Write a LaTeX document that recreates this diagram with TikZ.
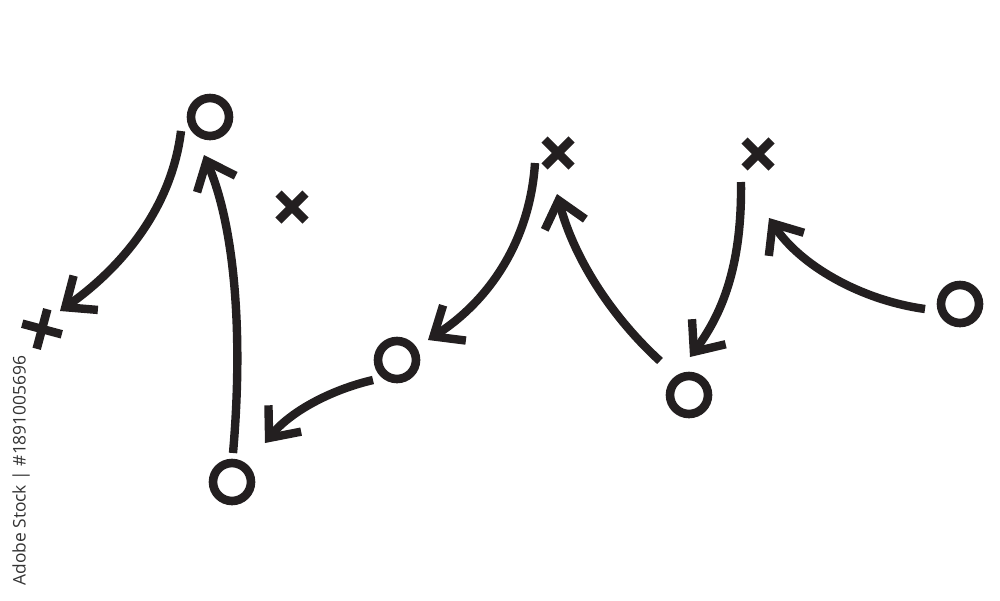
\documentclass[tikz,border=0pt]{standalone}
\usepackage{fontspec}
\newfontfamily\wmfont{Open Sans}
\usetikzlibrary{arrows.meta,shapes.misc}
\definecolor{ink}{HTML}{231F20}
\definecolor{wmgray}{HTML}{333333}
\begin{document}
\begin{tikzpicture}[x=0.5pt,y=-0.5pt,
  ring/.style={circle,draw=ink,line width=4.3pt,minimum size=19pt,inner sep=0pt,outer sep=0pt},
  xmark/.style={cross out,draw=ink,line width=4.3pt,minimum size=13.5pt,inner sep=0pt,outer sep=0pt},
  route/.style={draw=ink,line width=4.2pt,-{Straight Barb[length=12.5pt,width=21pt,sharp]}},
  wmtext/.style={rotate=90,anchor=west,inner sep=0pt,text=wmgray,font=\wmfont\fontsize{8.7}{10}\selectfont}
]
\useasboundingbox (0,0) rectangle (1000,600);
% players
\node[ring] (O1) at (210,117) {};
\node[ring] (O2) at (232,482) {};
\node[ring] (O3) at (397,360) {};
\node[ring] (O4) at (689,395) {};
\node[ring] (O5) at (960,304) {};
\node[xmark,minimum size=14.5pt,rotate=30] (X1) at (42,329) {};
\node[xmark] (X2) at (292,207) {};
\node[xmark] (X3) at (558,153) {};
\node[xmark] (X4) at (758,154) {};
% route ends
\coordinate (a1s) at (181,131); \coordinate (a1e) at (60,311);
\coordinate (a2s) at (233,453); \coordinate (a2e) at (204,155);
\coordinate (a3s) at (373,380); \coordinate (a3e) at (265,443);
\coordinate (a4s) at (535,163); \coordinate (a4e) at (428,340);
\coordinate (a5s) at (660,361); \coordinate (a5e) at (557,194);
\coordinate (a6s) at (741,182); \coordinate (a6e) at (690,357);
\coordinate (a7s) at (925,309); \coordinate (a7e) at (769,218);
% routes
\draw[route] (a1s) .. controls (172,205) and (125,265) .. (a1e);
\draw[route] (a2s) .. controls (243,340) and (236,230) .. (a2e);
\draw[route] (a3s) .. controls (330,390) and (290,412) .. (a3e);
\draw[route] (a4s) .. controls (530,240) and (490,300) .. (a4e);
\draw[route] (a5s) .. controls (615,320) and (575,262) .. (a5e);
\draw[route] (a6s) .. controls (742,260) and (725,310) .. (a6e);
\draw[route] (a7s) .. controls (860,300) and (800,265) .. (a7e);
% credit line
\node[wmtext] (wm) at (21,586) {Adobe Stock | \#1891005696};
\end{tikzpicture}
\end{document}
